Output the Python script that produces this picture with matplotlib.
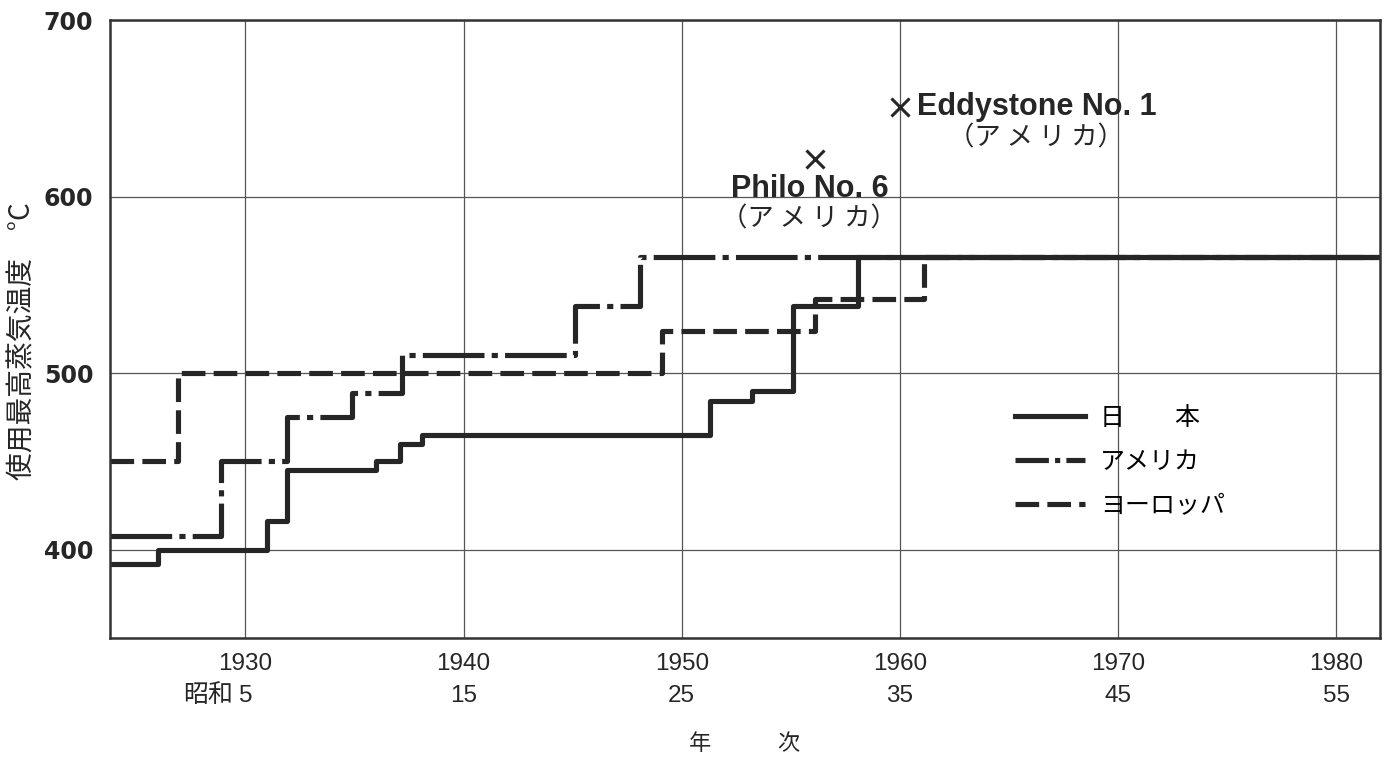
import matplotlib
matplotlib.use("Agg")
import matplotlib.pyplot as plt
from matplotlib.lines import Line2D
import matplotlib.transforms as mtransforms

# データ
jp_years = [1923.8, 1926.0, 1931.0, 1931.9, 1936.0, 1937.1, 1938.1, 1951.3, 1953.2, 1955.1, 1958.1, 1982.0]
jp_temp = [392, 400, 416, 445, 450, 460, 465, 484, 490, 538, 566, 566]

us_years = [1923.8, 1928.9, 1931.9, 1934.9, 1937.2, 1945.1, 1948.1, 1982.0]
us_temp = [408, 450, 475, 489, 510, 538, 566, 566]

eu_years = [1923.8, 1926.9, 1949.1, 1956.1, 1961.1, 1982.0]
eu_temp = [450, 500, 524, 542, 566, 566]

plant_names = ["Philo No. 6", "Eddystone No. 1"]
plant_years = [1956.1, 1960.0]
plant_temp = [621, 651]

tick_years = [1930, 1940, 1950, 1960, 1970, 1980]
tick_showa = [5, 15, 25, 35, 45, 55]
y_ticks = [400, 500, 600, 700]

jp = ["Noto Sans CJK JP", "DejaVu Sans"]
col = "#262626"
lw = 3.7

fig = plt.figure(figsize=(13.9, 7.57), dpi=100)
ax = fig.add_axes([110 / 1390, 1 - 638 / 757, 1270 / 1390, 618 / 757])

ax.step(eu_years, eu_temp, where="post", color=col, lw=lw, dashes=(4.6, 1.6))
ax.step(us_years, us_temp, where="post", color=col, lw=lw, dashes=(12, 1.4, 1.2, 1.4))
ax.step(jp_years, jp_temp, where="post", color=col, lw=lw)

ax.plot(plant_years, plant_temp, "x", color=col, ms=13, mew=2.2, ls="none")

# 注記
ax.annotate(plant_names[0], (plant_years[0], plant_temp[0]), xytext=(-3.5, -21), textcoords="offset points",
            ha="center", va="center", fontsize=22, fontweight="bold", family="Liberation Sans", color=col)
ax.annotate("（ア メ リ カ）", (plant_years[0], plant_temp[0]), xytext=(-4.5, -43), textcoords="offset points",
            ha="center", va="center", fontsize=19, family=jp, color=col)
ax.annotate(plant_names[1], (plant_years[1], plant_temp[1]), xytext=(12, 0), textcoords="offset points",
            ha="left", va="center", fontsize=22, fontweight="bold", family="Liberation Sans", color=col)
ax.annotate("（ア メ リ カ）", (plant_years[1], plant_temp[1]), xytext=(98, -23), textcoords="offset points",
            ha="center", va="center", fontsize=19, family=jp, color=col)

ax.set_xlim(1923.8, 1982)
ax.set_ylim(350, 700)
ax.set_xticks(tick_years)
ax.set_xticklabels([f"{y}\n{s}" for y, s in zip(tick_years, tick_showa)],
                   family="Liberation Sans", fontsize=17.5, color=col, linespacing=1.6)
ax.set_yticks(y_ticks)
ax.set_yticklabels([str(v) for v in y_ticks], family="DejaVu Sans", fontweight="bold", fontsize=17, color=col)
ax.tick_params(axis="x", length=0, pad=11)
ax.tick_params(axis="y", length=0, pad=12)
ax.grid(True, color="#555555", lw=0.9)
for s in ax.spines.values():
    s.set_color("#333333")
    s.set_linewidth(1.8)

trans = mtransforms.blended_transform_factory(ax.transData, ax.transAxes)
ax.text(1929.45, -0.093, "昭和", transform=trans, ha="right", va="center", fontsize=18, family=jp, color=col)

ax.set_ylabel("使用最高蒸気温度　°C", family=jp, fontsize=20, color=col, va="center")
ax.yaxis.set_label_coords(-0.069, 0.48)
ax.set_xlabel("年　　　次", family=jp, fontsize=16, color=col, va="center")
ax.xaxis.set_label_coords(0.5, -0.17)

handles = [
    Line2D([], [], color=col, lw=lw),
    Line2D([], [], color=col, lw=lw, dashes=(6.5, 1.2, 1.0, 1.2)),
    Line2D([], [], color=col, lw=lw, dashes=(4.6, 1.6)),
]
ax.legend(handles, ["日　　本", "アメリカ", "ヨーロッパ"], loc="upper left",
          bbox_to_anchor=(1015 / 1390, 1 - 405 / 757), bbox_transform=fig.transFigure,
          frameon=False, borderpad=0, borderaxespad=0, handlelength=2.8, handletextpad=0.6,
          labelspacing=0.72, prop={"family": jp, "size": 18})

fig.savefig("out.png", dpi=100)
